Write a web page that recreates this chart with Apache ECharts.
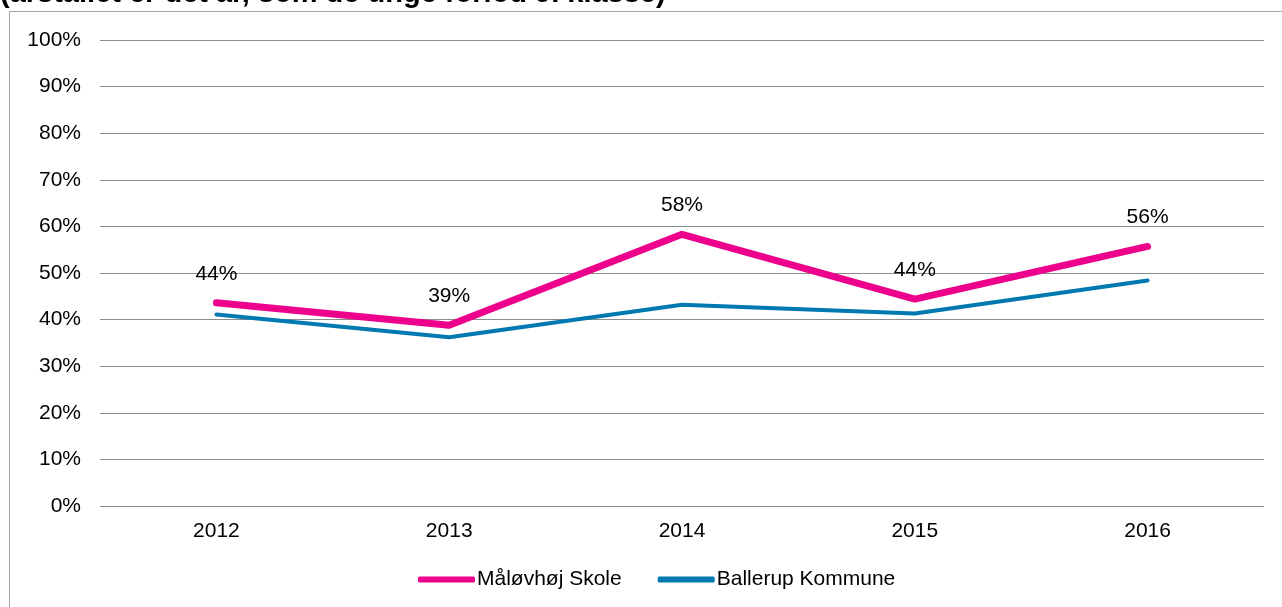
<!DOCTYPE html>
<html>
<head>
<meta charset="utf-8">
<script src="https://cdn.jsdelivr.net/npm/echarts@6/dist/echarts.min.js"></script>
<style>
  html, body { margin: 0; padding: 0; background: #fff; }
  #chart { width: 1282px; height: 607px; }
</style>
</head>
<body>
<div id="chart"></div>
<script>
const years = ["2012", "2013", "2014", "2015", "2016"];
const skole = [43.6, 38.8, 58.3, 44.4, 55.7];
const kommune = [41.1, 36.2, 43.2, 41.3, 48.4];
const yTicks = [0, 10, 20, 30, 40, 50, 60, 70, 80, 90, 100];

const chart = echarts.init(document.getElementById("chart"));
chart.setOption({
  animation: false,
  textStyle: { fontFamily: "Liberation Sans, Arial, sans-serif" },
  graphic: [
    {
      type: "text",
      left: 0,
      top: -21,
      style: {
        text: "(årstallet er det år, som de unge forlod 9. klasse)",
        font: "bold 29px Liberation Sans, Arial, sans-serif",
        fill: "#000",
      },
    },
    {
      type: "rect",
      shape: { x: 9.5, y: 11.5, width: 1300, height: 700 },
      style: { fill: "none", stroke: "#a6a6a6", lineWidth: 1 },
      silent: true,
    },
  ],
  grid: { left: 100, right: 18, top: 40, bottom: 101 },
  legend: {
    bottom: 12,
    left: 413,
    itemWidth: 57,
    itemHeight: 6,
    itemGap: 36,
    icon: "roundRect",
    textStyle: { fontSize: 21, color: "#000", padding: [0, 0, 0, -3] },
    data: ["Måløvhøj Skole", "Ballerup Kommune"],
  },
  xAxis: {
    type: "category",
    data: years,
    axisTick: { show: false },
    axisLine: { show: false },
    axisLabel: { fontSize: 21, color: "#000", margin: 15 },
  },
  yAxis: {
    type: "value",
    min: yTicks[0],
    max: yTicks[yTicks.length - 1],
    interval: 10,
    axisLine: { show: false },
    axisTick: { show: false },
    axisLabel: { fontSize: 21, color: "#000", margin: 19, formatter: "{value}%" },
    splitLine: { lineStyle: { color: "#8c8c8c", width: 1 } },
  },
  series: [
    {
      name: "Ballerup Kommune",
      type: "line",
      data: kommune,
      symbol: "none",
      lineStyle: { color: "#0079b0", width: 4, cap: "round" },
      itemStyle: { color: "#0079b0" },
      z: 2,
    },
    {
      name: "Måløvhøj Skole",
      type: "line",
      data: skole,
      symbol: "circle",
      symbolSize: 1,
      lineStyle: { color: "#ec008c", width: 7, cap: "round" },
      itemStyle: { color: "#ec008c" },
      label: {
        show: true,
        position: "top",
        distance: 18,
        fontSize: 21,
        color: "#000",
        formatter: (p) => Math.round(p.value) + "%",
      },
      z: 3,
    },
  ],
});
</script>
</body>
</html>
